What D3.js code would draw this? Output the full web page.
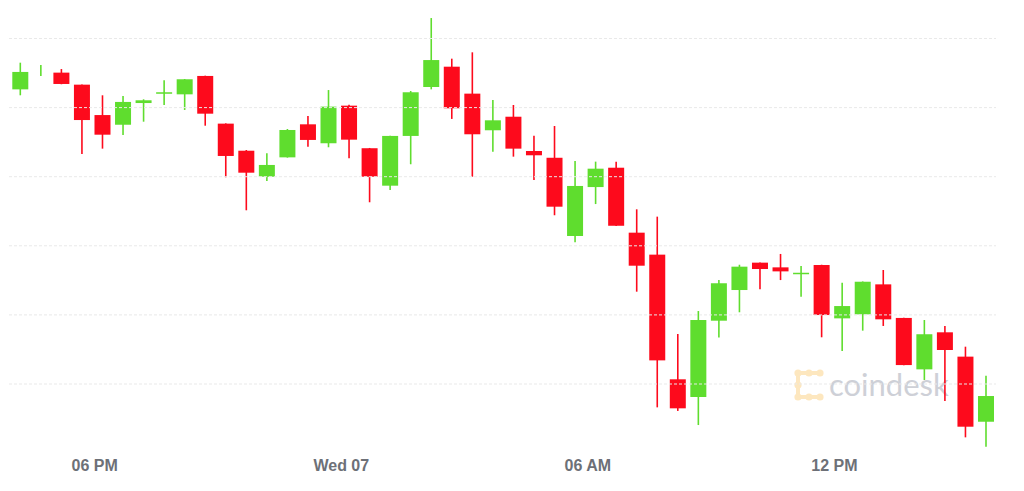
<!DOCTYPE html>
<html>
<head>
<meta charset="utf-8">
<script src="https://cdn.jsdelivr.net/npm/d3@7"></script>
<style>
  body { margin: 0; background: #fff; }
  svg { display: block; }
  .tick text { font-family: "Liberation Sans", Arial, sans-serif; font-weight: bold; font-size: 16px; fill: #6d7077; }
</style>
</head>
<body>
<div id="chart"></div>
<script>
// 30 min BTC candles, Tue 6 Apr 16:00 -> Wed 7 Apr 15:30
let opens  = [58132,58270,58253,58166,57946,57876,58033,58106,58096,58229,57884,57688,57500,57640,57879,57742,
              58014,57706,57435,57795,58149,58296,58101,57836,57934,57686,57637,57071,57425,57565,57095,56936,
              56034,55906,56458,56680,56878,56844,56798,56861,56475,56504,56721,56478,56106,56374,56198,55727];
let highs  = [58325,58308,58279,58168,58089,58084,58060,58198,58207,58231,57886,57693,57669,57845,57939,58127,
              58021,57708,57797,58120,58648,58354,58400,58055,58019,57797,57867,57614,57609,57609,57264,57211,
              56362,56528,56752,56863,56880,56941,56854,56863,56733,56742,56825,56480,56463,56420,56270,56060];
let lows   = [58089,58229,58169,57664,57703,57802,57898,58019,57983,57869,57496,57257,57469,57638,57717,57713,
              57633,57315,57404,57590,58132,57918,57500,57681,57645,57476,57221,57025,57302,57143,56668,55831,
              55805,55703,56336,56519,56685,56752,56632,56338,56239,56386,56420,56135,56029,55877,55614,55546];
let closes = [58258,58270,58171,57910,57804,58041,58053,58111,58205,57956,57650,57529,57585,57838,57766,58007,
              57768,57500,57795,58111,58344,57995,57807,57908,57703,57655,57283,57433,57558,57145,56856,56171,
              55824,56463,56729,56849,56832,56815,56805,56499,56564,56740,56468,56137,56360,56246,55691,55913];

let gridValues = [56000, 56500, 57000, 57500, 58000, 58500];
let tickTimes = ["2021-04-06T18:00", "2021-04-07T00:00", "2021-04-07T06:00", "2021-04-07T12:00"];

let width = 1024, height = 491;
let startTime = new Date("2021-04-06T16:00");
let halfHour = 30 * 60 * 1000;

let data = opens.map(function(o, i) {
  return { t: new Date(+startTime + i * halfHour + halfHour / 2), o: o, h: highs[i], l: lows[i], c: closes[i] };
});

let x = d3.scaleTime()
  .domain([data[0].t, data[data.length - 1].t])
  .range([20.3, 986]);

let y = d3.scaleLinear()
  .domain([56000, 58500])
  .range([384, 38.5]);

let bodyW = 16;
let green = "#5fdd2e", red = "#fd0a1c";

let svg = d3.select("#chart").append("svg")
  .attr("width", width)
  .attr("height", height);

// watermark
let wm = svg.append("g").attr("opacity", 0.9);
let logoC = "#fde5b9";
wm.append("path")
  .attr("d", "M820,373 L798,373 L798,397 L820,397")
  .attr("fill", "none")
  .attr("stroke", logoC)
  .attr("stroke-width", 4)
  .attr("stroke-linejoin", "round");
[[798,373],[809,373],[820,373],[798,385],[798,397],[809,397],[820,397]].forEach(function(p) {
  wm.append("circle").attr("cx", p[0]).attr("cy", p[1]).attr("r", 3.6).attr("fill", logoC);
});
wm.append("text")
  .attr("x", 829)
  .attr("y", 396)
  .attr("font-family", "Lato, 'Open Sans', sans-serif")
  .attr("font-size", 31)
  .attr("fill", "#c9ccd3")
  .text("coindesk");

// candles
let candle = svg.selectAll(".candle")
  .data(data)
  .enter()
  .append("g")
  .classed("candle", true)
  .attr("fill", function(d) { return d.c >= d.o ? green : red; })
  .attr("stroke", function(d) { return d.c >= d.o ? green : red; });

candle.append("line")
  .attr("x1", function(d) { return x(d.t); })
  .attr("x2", function(d) { return x(d.t); })
  .attr("y1", function(d) { return y(d.h); })
  .attr("y2", function(d) { return y(d.l); })
  .attr("stroke-width", 1.6);

// doji (open == close) gets no body
candle.append("rect")
  .attr("x", function(d) { return x(d.t) - bodyW / 2; })
  .attr("y", function(d) { return y(Math.max(d.o, d.c)); })
  .attr("width", bodyW)
  .attr("height", function(d) {
    return d.o === d.c ? 0 : Math.max(1.5, Math.abs(y(d.o) - y(d.c)));
  })
  .attr("stroke", "none");

// grid lines on top
svg.append("g")
  .selectAll("line")
  .data(gridValues)
  .enter()
  .append("line")
  .attr("x1", 9)
  .attr("x2", 996)
  .attr("y1", function(d) { return y(d); })
  .attr("y2", function(d) { return y(d); })
  .attr("stroke", "#e9e9e9")
  .attr("stroke-width", 1)
  .attr("stroke-dasharray", "3,2");

// time axis
let xAxis = d3.axisBottom(x)
  .tickValues(tickTimes.map(function(s) { return new Date(s); }))
  .tickSize(0)
  .tickFormat(function(d) {
    return d.getHours() === 0 ? d3.timeFormat("%a %d")(d) : d3.timeFormat("%I %p")(d);
  });

let axisG = svg.append("g")
  .attr("transform", "translate(0,459)")
  .call(xAxis);
axisG.select(".domain").remove();
axisG.selectAll("text").attr("dy", 0).attr("y", 12).attr("dx", 2);
</script>
</body>
</html>
